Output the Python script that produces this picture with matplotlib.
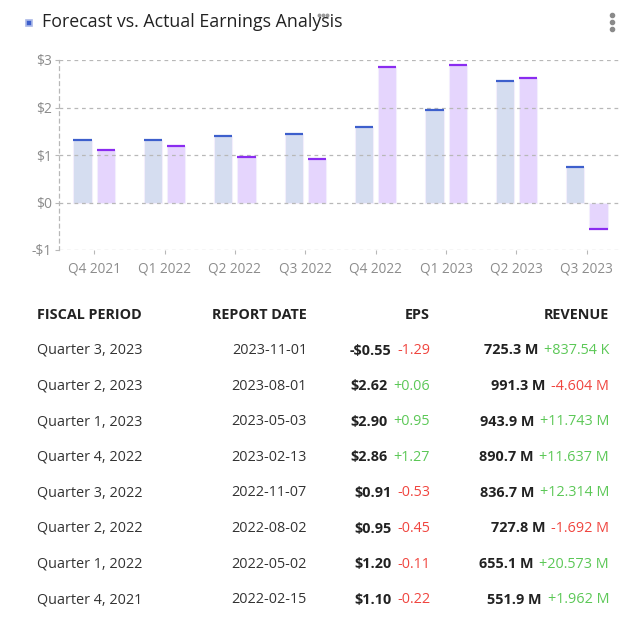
import numpy as np
import matplotlib.pyplot as plt
from matplotlib.patches import Rectangle
from matplotlib.lines import Line2D

# Data
quarters = ['Q4 2021', 'Q1 2022', 'Q2 2022', 'Q3 2022', 'Q4 2022', 'Q1 2023', 'Q2 2023', 'Q3 2023']
eps_estimate = [1.32, 1.31, 1.40, 1.44, 1.59, 1.95, 2.56, 0.74]
eps_actual = [1.10, 1.20, 0.95, 0.91, 2.86, 2.90, 2.62, -0.55]

fiscal_period = ['Quarter 3, 2023', 'Quarter 2, 2023', 'Quarter 1, 2023', 'Quarter 4, 2022',
                 'Quarter 3, 2022', 'Quarter 2, 2022', 'Quarter 1, 2022', 'Quarter 4, 2021']
report_date = ['2023-11-01', '2023-08-01', '2023-05-03', '2023-02-13',
               '2022-11-07', '2022-08-02', '2022-05-02', '2022-02-15']
eps_text = ['-$0.55', '$2.62', '$2.90', '$2.86', '$0.91', '$0.95', '$1.20', '$1.10']
eps_surprise = ['-1.29', '+0.06', '+0.95', '+1.27', '-0.53', '-0.45', '-0.11', '-0.22']
revenue_text = ['725.3 M', '991.3 M', '943.9 M', '890.7 M', '836.7 M', '727.8 M', '655.1 M', '551.9 M']
revenue_surprise = ['+837.54 K', '-4.604 M', '+11.743 M', '+11.637 M', '+12.314 M', '-1.692 M',
                    '+20.573 M', '+1.962 M']
y_ticks = [-1, 0, 1, 2, 3]
y_tick_labels = ['-$1', '$0', '$1', '$2', '$3']

plt.rcParams['font.family'] = ['Open Sans', 'DejaVu Sans']

est_fill, est_line = '#d3dcf0', '#3d5fcc'
act_fill, act_line = '#e4d3fd', '#8a2cf0'
green, red = '#5cc857', '#f0453f'
gray_text = '#8c8c8c'
grid_col = '#b8b8b8'

fig = plt.figure(figsize=(6.4, 6.23), dpi=100)
W, H = 640, 623

ax = fig.add_axes([59 / W, 1 - 250 / H, 563 / W, 190 / H])
x = np.arange(len(quarters))
bw = 0.26
off = 0.165

for xs, vals, fc, lc in [(x - off, eps_estimate, est_fill, est_line),
                         (x + off, eps_actual, act_fill, act_line)]:
    ax.bar(xs, vals, width=bw, color=fc, edgecolor='#f4effd', linewidth=0.8, alpha=0.95, zorder=2)
    ax.hlines(vals, xs - bw / 2, xs + bw / 2, colors=lc, linewidth=1.6, zorder=4)

ax.set_xlim(-0.5, len(quarters) - 0.5)
ax.set_ylim(-1, 3)
ax.set_yticks(y_ticks)
ax.set_yticklabels(y_tick_labels)
ax.set_xticks(x)
ax.set_xticklabels(quarters)
for yv in y_ticks:
    ax.axhline(yv, color=grid_col, linewidth=0.9, linestyle=(0, (3, 3)), zorder=3)
for s in ['top', 'right', 'bottom']:
    ax.spines[s].set_visible(False)
ax.spines['left'].set_color(grid_col)
ax.spines['left'].set_linewidth(0.9)
ax.spines['left'].set_linestyle((0, (3, 3)))
ax.tick_params(axis='y', length=3, color=grid_col, labelcolor=gray_text, labelsize=10, pad=2)
ax.tick_params(axis='x', length=3, color=grid_col, labelcolor=gray_text, labelsize=9.8, pad=5)

# Header
fig.text(42 / W, 1 - 22 / H, 'Forecast vs. Actual Earnings Analysis', fontsize=12.8,
         color='#222222', va='center', ha='left')
fig.patches.append(Rectangle((26 / W, 1 - 26 / H), 6 / W, 6 / H, transform=fig.transFigure,
                             facecolor='#3d5fcc', edgecolor='#aab8e8', linewidth=1.2))
# menu dots and drag handle
fig.add_artist(Line2D([612 / W] * 3, [1 - 15 / H, 1 - 22 / H, 1 - 29 / H], transform=fig.transFigure,
                      linestyle='none', marker='o', markersize=3, color='#8a8a8a'))
fig.add_artist(Line2D([319 / W, 323 / W, 327 / W], [1 - 15 / H] * 3, transform=fig.transFigure,
                      linestyle='none', marker='o', markersize=1.8, color='#9a9a9a'))

# Table
hdr_y = 315
fs = 10.4
for txt, xp, ha in [('FISCAL PERIOD', 37, 'left'), ('REPORT DATE', 307, 'right'),
                    ('EPS', 430, 'right'), ('REVENUE', 609, 'right')]:
    fig.text(xp / W, 1 - hdr_y / H, txt, fontsize=fs, fontweight='bold', color='#222222',
             ha=ha, va='center')

for i in range(len(fiscal_period)):
    yp = 1 - (350.5 + i * 35.6) / H
    fig.text(37 / W, yp, fiscal_period[i], fontsize=fs, color='#333333', ha='left', va='center')
    fig.text(307 / W, yp, report_date[i], fontsize=fs, color='#333333', ha='right', va='center')
    t1 = fig.text(430 / W, yp, eps_surprise[i], fontsize=fs,
                  color=green if eps_surprise[i].startswith('+') else red, ha='right', va='center')
    plt.annotate(eps_text[i], xy=(0, 0.5), xycoords=t1, xytext=(-4, 0),
                 textcoords='offset points', fontsize=fs, fontweight='bold',
                 color='#222222', ha='right', va='center', annotation_clip=False)
    t2 = fig.text(609 / W, yp, revenue_surprise[i], fontsize=fs,
                  color=green if revenue_surprise[i].startswith('+') else red, ha='right', va='center')
    plt.annotate(revenue_text[i], xy=(0, 0.5), xycoords=t2, xytext=(-4, 0),
                 textcoords='offset points', fontsize=fs, fontweight='bold',
                 color='#222222', ha='right', va='center', annotation_clip=False)

fig.savefig('out.png', dpi=100)
